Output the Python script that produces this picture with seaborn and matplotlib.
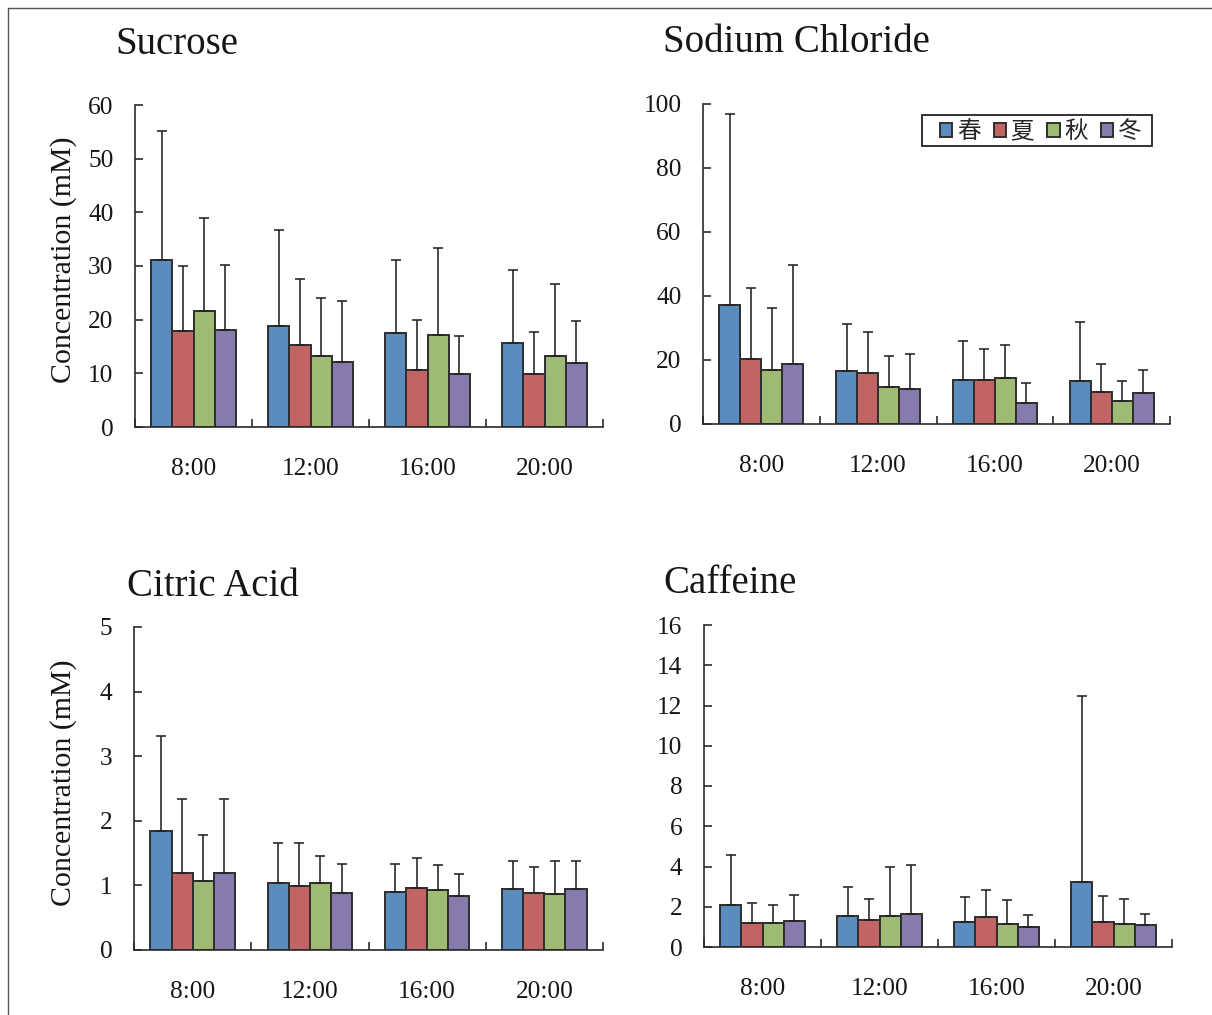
import matplotlib
matplotlib.use("Agg")
import matplotlib.pyplot as plt
from matplotlib.lines import Line2D
from matplotlib.patches import Rectangle
from matplotlib.container import BarContainer
import seaborn as sns
import pandas as pd
import numpy as np

times = ["8:00", "12:00", "16:00", "20:00"]
seasons = ["春", "夏", "秋", "冬"]
colors = ["#5A8DBE", "#C26463", "#9EBA73", "#867BAC"]

# mean values [time][season]
sucrose_mean = [[31.1, 17.9, 21.6, 18.0], [18.9, 15.2, 13.2, 12.1],
                [17.6, 10.7, 17.2, 9.8], [15.7, 9.8, 13.2, 11.9]]
sucrose_sd = [[24.1, 12.1, 17.4, 12.2], [17.8, 12.3, 10.8, 11.4],
              [13.6, 9.2, 16.2, 7.1], [13.6, 7.9, 13.4, 7.9]]

nacl_mean = [[37.2, 20.2, 17.0, 18.9], [16.7, 16.0, 11.7, 11.0],
             [13.8, 13.9, 14.3, 6.7], [13.4, 9.9, 7.2, 9.7]]
nacl_sd = [[59.8, 22.4, 19.4, 30.8], [14.7, 12.9, 9.7, 11.0],
           [12.1, 9.6, 10.4, 6.0], [18.6, 8.8, 6.1, 7.2]]

citric_mean = [[1.84, 1.19, 1.07, 1.19], [1.03, 0.99, 1.03, 0.89],
               [0.90, 0.96, 0.93, 0.83], [0.95, 0.89, 0.86, 0.95]]
citric_sd = [[1.47, 1.14, 0.71, 1.14], [0.62, 0.66, 0.42, 0.44],
             [0.43, 0.46, 0.39, 0.35], [0.42, 0.39, 0.51, 0.42]]

caffeine_mean = [[2.07, 1.20, 1.19, 1.28], [1.55, 1.33, 1.53, 1.63],
                 [1.25, 1.47, 1.14, 0.97], [3.23, 1.23, 1.14, 1.10]]
caffeine_sd = [[2.49, 0.97, 0.88, 1.29], [1.43, 1.07, 2.47, 2.42],
               [1.25, 1.36, 1.20, 0.63], [9.25, 1.32, 1.26, 0.55]]

titles = ["Sucrose", "Sodium Chloride", "Citric Acid", "Caffeine"]
ylims = [60, 100, 5, 16]
ysteps = [10, 20, 1, 2]
ylabel = "Concentration (mM)"

sns.set_style("ticks")
plt.rcParams["font.family"] = ["Liberation Serif", "Noto Sans CJK SC", "DejaVu Sans"]
plt.rcParams["axes.linewidth"] = 1.2

W, H = 1212, 1015
fig = plt.figure(figsize=(W / 100, H / 100), dpi=100)

# axes boxes in pixels: left, right, top, bottom
boxes = [(135, 603, 105, 427), (703, 1170, 104, 424),
         (134, 603, 627, 950), (704, 1172, 625, 947)]
title_pos = [(115, 54), (663, 52), (127, 596), (663, 593)]

means = [sucrose_mean, nacl_mean, citric_mean, caffeine_mean]
sds = [sucrose_sd, nacl_sd, citric_sd, caffeine_sd]

spine_color = "#2b2b2b"
text_color = "#161616"

for i in range(4):
    l, r, t, b = boxes[i]
    ax = fig.add_axes([l / W, 1 - b / H, (r - l) / W, (b - t) / H])
    rows = []
    for ti, tm in enumerate(times):
        for si, s in enumerate(seasons):
            rows.append({"time": tm, "season": s,
                         "value": means[i][ti][si], "sd": sds[i][ti][si]})
    df = pd.DataFrame(rows)
    sns.barplot(data=df, x="time", y="value", hue="season", order=times,
                hue_order=seasons, palette=colors, width=0.72, errorbar=None,
                edgecolor="#2e2e2e", linewidth=1.4, saturation=1,
                legend=False, ax=ax)
    bar_conts = [c for c in ax.containers if isinstance(c, BarContainer)]
    for si, cont in enumerate(bar_conts):
        xs = [bar.get_x() + bar.get_width() / 2 for bar in cont]
        ys = [bar.get_height() for bar in cont]
        sd = df[df["season"] == seasons[si]]["sd"].to_numpy()
        ax.errorbar(xs, ys, yerr=[np.zeros_like(sd), sd], fmt="none",
                    ecolor="#222222", elinewidth=1.15, capsize=3.6,
                    capthick=1.15, zorder=1)
    ax.set_xlim(-0.5, 3.5)
    ax.set_ylim(0, ylims[i])
    ax.set_yticks(np.arange(0, ylims[i] + ysteps[i] / 2, ysteps[i]))
    ax.yaxis.set_major_formatter(matplotlib.ticker.FormatStrFormatter("%g"))
    ax.set_xticks(range(4))
    ax.set_xticklabels(times)
    ax.set_xticks([-0.5, 0.5, 1.5, 2.5, 3.5], minor=True)
    ax.tick_params(axis="x", which="major", length=0, pad=22, labelsize=18.3,
                   colors=text_color)
    ax.tick_params(axis="x", which="minor", direction="in", length=6,
                   width=1.2, color=spine_color)
    ax.tick_params(axis="y", which="major", direction="in", length=6,
                   width=1.2, color=spine_color, pad=15.5, labelsize=18.3,
                   labelcolor=text_color)
    ax.set_xlabel("")
    ax.set_ylabel("")
    sns.despine(ax=ax)
    for sp in ["left", "bottom"]:
        ax.spines[sp].set_color(spine_color)
        ax.spines[sp].set_linewidth(1.2)
    tx, ty = title_pos[i]
    fig.text(tx / W, 1 - ty / H, titles[i], ha="left", va="baseline",
             fontsize=28, color=text_color)
    if i % 2 == 0:
        fig.text(64 / W, 1 - ((t + b) / 2 - 6) / H, ylabel, rotation=90,
                 ha="center", va="center", fontsize=21.5, color=text_color)
    if i == 1:
        x0 = (922 - l) / (r - l)
        x1 = (1152 - l) / (r - l)
        y1 = (b - 115) / (b - t)
        y0 = (b - 146) / (b - t)
        ax.add_patch(Rectangle((x0, y0), x1 - x0, y1 - y0,
                               transform=ax.transAxes, facecolor="white",
                               edgecolor="#222222", linewidth=1.3,
                               zorder=5, clip_on=False))
        leg = ax.legend(bar_conts, seasons, loc="center",
                        bbox_to_anchor=((x0 + x1) / 2 + 0.008, (y0 + y1) / 2 - 0.004),
                        ncol=4, frameon=False,
                        handlelength=0.52, handleheight=0.52,
                        handletextpad=0.2, columnspacing=0.55,
                        borderpad=0.0, borderaxespad=0,
                        prop={"family": ["Noto Sans CJK SC", "DejaVu Sans"],
                              "size": 17})
        leg.set_zorder(6)

# figure border (top and left)
fig.add_artist(Line2D([8 / W, 1], [1 - 8 / H, 1 - 8 / H], color="#555555",
                      linewidth=1, transform=fig.transFigure))
fig.add_artist(Line2D([8 / W, 8 / W], [0, 1 - 8 / H], color="#555555",
                      linewidth=1, transform=fig.transFigure))

fig.savefig("out.png", dpi=100)
